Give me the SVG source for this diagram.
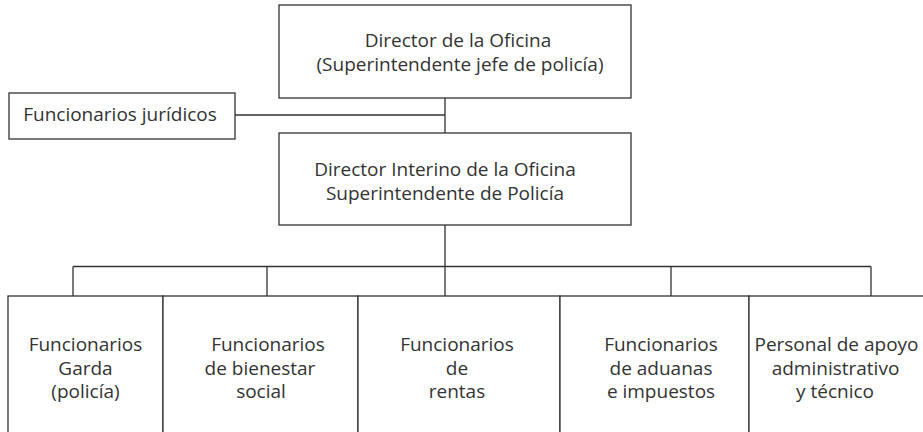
<svg xmlns="http://www.w3.org/2000/svg" width="923" height="432" viewBox="0 0 923 432">
<style>
.box{fill:#fff;stroke:#333;stroke-width:1.3}
.ln{fill:none;stroke:#333;stroke-width:1.3}
text{font-family:"Open Sans","Noto Sans",sans-serif;font-size:19px;fill:#333;text-anchor:middle}
</style>
<rect width="923" height="432" fill="#fff"/>
<g id="connectors">
<path class="ln" d="M445,98 V133 M235,115 H445 M445,225 V266.5 M73,266.5 H871 M73,266.5 V296 M267,266.5 V296 M445,266.5 V296 M671,266.5 V296 M871,266.5 V296"/>
</g>
<g id="director">
<rect class="box" x="279" y="5" width="352" height="93"/>
<text x="458" y="47">Director de la Oficina</text>
<text x="460" y="71">(Superintendente jefe de policía)</text>
</g>
<g id="juridicos">
<rect class="box" x="9" y="93" width="226" height="46"/>
<text x="120" y="121">Funcionarios jurídicos</text>
</g>
<g id="interino">
<rect class="box" x="279" y="133" width="352" height="92"/>
<text x="445" y="176">Director Interino de la Oficina</text>
<text x="445" y="200">Superintendente de Policía</text>
</g>
<g id="garda">
<rect class="box" x="8" y="296" width="155" height="150"/>
<text x="85.5" y="351">Funcionarios</text>
<text x="85.5" y="375">Garda</text>
<text x="85.5" y="398">(policía)</text>
</g>
<g id="bienestar">
<rect class="box" x="163" y="296" width="195" height="150"/>
<text x="268" y="351">Funcionarios</text>
<text x="260" y="375">de bienestar</text>
<text x="261" y="398">social</text>
</g>
<g id="rentas">
<rect class="box" x="358" y="296" width="202" height="150"/>
<text x="457" y="351">Funcionarios</text>
<text x="457" y="375">de</text>
<text x="457" y="398">rentas</text>
</g>
<g id="aduanas">
<rect class="box" x="560" y="296" width="189" height="150"/>
<text x="661" y="351">Funcionarios</text>
<text x="661" y="375">de aduanas</text>
<text x="661" y="398">e impuestos</text>
</g>
<g id="personal">
<rect class="box" x="749" y="296" width="190" height="150"/>
<text x="836.5" y="351">Personal de apoyo</text>
<text x="835.5" y="375">administrativo</text>
<text x="835" y="398">y técnico</text>
</g>
</svg>
